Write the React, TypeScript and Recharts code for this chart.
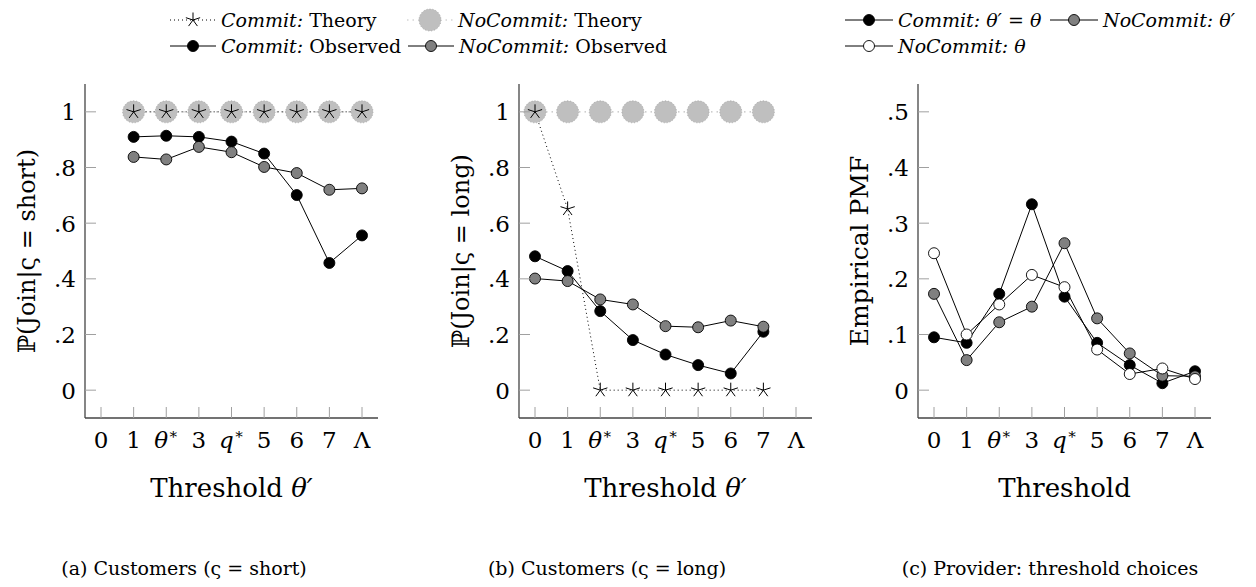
import React from "react";
import { LineChart, Line, XAxis, YAxis } from "recharts";

// categories shared by all three panels
const CATS = ["0", "1", "θ*", "3", "q*", "5", "6", "7", "Λ"];

// (a) customers, short
const aCommitTheory = [null, 1, 1, 1, 1, 1, 1, 1, 1];
const aNoCommitTheory = [null, 1, 1, 1, 1, 1, 1, 1, 1];
const aCommitObs = [null, 0.91, 0.914, 0.91, 0.893, 0.85, 0.701, 0.457, 0.556];
const aNoCommitObs = [null, 0.838, 0.829, 0.874, 0.855, 0.802, 0.78, 0.72, 0.725];

// (b) customers, long
const bCommitTheory = [1, 0.651, 0, 0, 0, 0, 0, 0, null];
const bNoCommitTheory = [1, 1, 1, 1, 1, 1, 1, 1, null];
const bCommitObs = [0.481, 0.428, 0.284, 0.18, 0.128, 0.09, 0.06, 0.21, null];
const bNoCommitObs = [0.401, 0.392, 0.326, 0.308, 0.23, 0.226, 0.25, 0.228, null];

// (c) provider threshold choices
const cCommit = [0.095, 0.085, 0.173, 0.334, 0.168, 0.085, 0.045, 0.0125, 0.034];
const cNoCommitPrime = [0.173, 0.054, 0.122, 0.15, 0.264, 0.129, 0.066, 0.026, 0.025];
const cNoCommitTheta = [0.246, 0.1, 0.154, 0.207, 0.185, 0.073, 0.029, 0.039, 0.02];

const PROB_TICKS = [0, 0.2, 0.4, 0.6, 0.8, 1];
const PMF_TICKS = [0, 0.1, 0.2, 0.3, 0.4, 0.5];

const dataA = CATS.map((c, i) => ({ cat: c, ct: aCommitTheory[i], nt: aNoCommitTheory[i], co: aCommitObs[i], no: aNoCommitObs[i] }));
const dataB = CATS.map((c, i) => ({ cat: c, ct: bCommitTheory[i], nt: bNoCommitTheory[i], co: bCommitObs[i], no: bNoCommitObs[i] }));
const dataC = CATS.map((c, i) => ({ cat: c, cm: cCommit[i], np: cNoCommitPrime[i], nth: cNoCommitTheta[i] }));

const FONT = "'DejaVu Serif', 'Liberation Serif', 'Times New Roman', serif";
const BOX = "#444";
const TICK = "#a0a0a0";

const catLabel = (v: string) => {
  if (v === "θ*" || v === "q*") {
    return (
      <>
        <tspan fontStyle="italic">{v[0]}</tspan>
        <tspan fontSize={15} dy={-9}>∗</tspan>
      </>
    );
  }
  return v;
};

const XTick = (props: any) => {
  const { x, y, payload } = props;
  return (
    <g>
      <line x1={x} x2={x} y1={y} y2={y - 11} stroke={TICK} strokeWidth={1} />
      <text x={x} y={y + 30} textAnchor="middle" fontSize={23} fontFamily={FONT} fill="#000">
        {catLabel(payload.value)}
      </text>
    </g>
  );
};

const fmt = (v: number) => (v === 0 ? "0" : v === 1 ? "1" : String(v).replace(/^0/, ""));

const YTick = (props: any) => {
  const { x, y, payload } = props;
  return (
    <g>
      <line x1={x} x2={x + 11} y1={y} y2={y} stroke={TICK} strokeWidth={1} />
      <text x={x - 9} y={y + 8.5} textAnchor="end" fontSize={23} fontFamily={FONT} fill="#000">
        {fmt(payload.value)}
      </text>
    </g>
  );
};

const yTitle = (text: React.ReactNode, dx: number, size = 24) => (props: any) => {
  const vb = props.viewBox || { x: 0, y: 84, width: 0, height: 334 };
  const cx = vb.x + dx;
  const cy = vb.y + vb.height / 2;
  return (
    <text transform={`translate(${cx},${cy}) rotate(-90)`} textAnchor="middle" dominantBaseline="central" fontSize={size} fontFamily={FONT} fill="#000">
      {text}
    </text>
  );
};

const xTitle = (text: React.ReactNode) => (props: any) => {
  const vb = props.viewBox || { x: 0, y: 418, width: 0, height: 0 };
  return (
    <text x={vb.x + vb.width / 2} y={vb.y + 79} textAnchor="middle" fontSize={26} fontFamily={FONT} fill="#000">
      {text}
    </text>
  );
};

const circleDot = (fill: string, r = 5.5, stroke = "#000", dash?: string) => (p: any) => {
  if (p.cx == null || p.cy == null || p.value == null) return <g key={p.index} />;
  return <circle key={p.index} cx={p.cx} cy={p.cy} r={r} fill={fill} stroke={stroke} strokeWidth={0.9} strokeDasharray={dash} />;
};

const starPath = (cx: number, cy: number, r: number) => {
  let d = "";
  for (let k = 0; k < 5; k++) {
    const a = ((-90 + k * 72) * Math.PI) / 180;
    d += `M${cx},${cy}L${cx + r * Math.cos(a)},${cy + r * Math.sin(a)}`;
  }
  return d;
};

const starDot = (p: any) => {
  if (p.cx == null || p.cy == null || p.value == null) return <g key={p.index} />;
  return <path key={p.index} d={starPath(p.cx, p.cy, 7.5)} stroke="#000" strokeWidth={1} fill="none" />;
};

const frameAxes = (domain: number[]) => [
  <XAxis key="top" xAxisId="top" orientation="top" height={0} tick={false} tickLine={false} axisLine={{ stroke: BOX, strokeWidth: 1.3 }} />,
  <YAxis key="r" yAxisId="r" orientation="right" width={0} tick={false} tickLine={false} domain={domain} axisLine={{ stroke: BOX, strokeWidth: 1.3 }} />,
];

function JoinPanel({ data, left, yWidth, right, ylabel, labelDx }: any) {
  return (
    <div style={{ position: "absolute", left, top: 0 }}>
      <LineChart width={yWidth + 293 + right} height={510} data={data} margin={{ top: 84, right, left: 0, bottom: 0 }}>
        <XAxis dataKey="cat" height={92} padding={{ left: 16, right: 16 }} tick={<XTick />} tickSize={0} tickMargin={0} tickLine={false} interval={0} axisLine={{ stroke: BOX, strokeWidth: 1.3 }} label={xTitle(<>Threshold <tspan fontStyle="italic">θ′</tspan></>)} />
        <YAxis type="number" domain={[-0.1, 1.1]} ticks={PROB_TICKS} width={yWidth} tick={<YTick />} tickSize={0} tickMargin={0} tickLine={false} interval={0} allowDataOverflow axisLine={{ stroke: BOX, strokeWidth: 1.3 }} label={yTitle(ylabel, labelDx)} />
        {frameAxes([-0.1, 1.1])}
        <Line dataKey="nt" stroke="#bfbfbf" strokeWidth={1.2} strokeDasharray="1.5 4" dot={circleDot("#bfbfbf", 11, "#a5a5a5", "1 2")} activeDot={false} isAnimationActive={false} />
        <Line dataKey="ct" stroke="#000" strokeWidth={1} strokeDasharray="1 3" dot={starDot} activeDot={false} isAnimationActive={false} />
        <Line dataKey="co" stroke="#000" strokeWidth={1} dot={circleDot("#000")} activeDot={false} isAnimationActive={false} />
        <Line dataKey="no" stroke="#000" strokeWidth={1} dot={circleDot("#808080")} activeDot={false} isAnimationActive={false} />
      </LineChart>
    </div>
  );
}

function PmfPanel() {
  return (
    <div style={{ position: "absolute", left: 840, top: 0 }}>
      <LineChart width={416} height={510} data={dataC} margin={{ top: 84, right: 45, left: 0, bottom: 0 }}>
        <XAxis dataKey="cat" height={92} padding={{ left: 16, right: 16 }} tick={<XTick />} tickSize={0} tickMargin={0} tickLine={false} interval={0} axisLine={{ stroke: BOX, strokeWidth: 1.3 }} label={xTitle("Threshold")} />
        <YAxis type="number" domain={[-0.05, 0.55]} ticks={PMF_TICKS} width={78} tick={<YTick />} tickSize={0} tickMargin={0} tickLine={false} interval={0} allowDataOverflow axisLine={{ stroke: BOX, strokeWidth: 1.3 }} label={yTitle("Empirical PMF", 19, 25)} />
        {frameAxes([-0.05, 0.55])}
        <Line dataKey="cm" stroke="#000" strokeWidth={1} dot={circleDot("#000")} activeDot={false} isAnimationActive={false} />
        <Line dataKey="np" stroke="#000" strokeWidth={1} dot={circleDot("#808080")} activeDot={false} isAnimationActive={false} />
        <Line dataKey="nth" stroke="#000" strokeWidth={1} dot={circleDot("#fff")} activeDot={false} isAnimationActive={false} />
      </LineChart>
    </div>
  );
}

function Marker({ kind, w = 46 }: { kind: string; w?: number }) {
  const c = w / 2;
  return (
    <svg width={w} height={26} style={{ display: "block" }}>
      {kind === "star" && (
        <>
          <line x1={0} x2={w} y1={13} y2={13} stroke="#000" strokeDasharray="1 3" />
          <path d={starPath(c, 13, 7.5)} stroke="#000" fill="none" />
        </>
      )}
      {kind === "theory" && (
        <>
          <line x1={0} x2={w} y1={13} y2={13} stroke="#bfbfbf" strokeWidth={1.2} strokeDasharray="1.5 4" />
          <circle cx={c} cy={13} r={11} fill="#bfbfbf" stroke="#a5a5a5" strokeWidth={0.9} strokeDasharray="1 2" />
        </>
      )}
      {kind !== "star" && kind !== "theory" && (
        <>
          <line x1={0} x2={w} y1={13} y2={13} stroke="#000" strokeWidth={1} />
          <circle cx={c} cy={13} r={5.5} fill={kind} stroke="#000" strokeWidth={0.9} />
        </>
      )}
    </svg>
  );
}

function Entry({ left, top, kind, w, children }: any) {
  return (
    <div style={{ position: "absolute", left, top: top - 13, height: 26, display: "flex", alignItems: "center", whiteSpace: "nowrap", fontFamily: FONT, fontSize: 19 }}>
      <Marker kind={kind} w={w} />
      <span style={{ marginLeft: 5 }}>{children}</span>
    </div>
  );
}

const caption: React.CSSProperties = { position: "absolute", top: 553, height: 30, lineHeight: "30px", fontFamily: FONT, fontSize: 19, textAlign: "center", whiteSpace: "nowrap", transform: "translateX(-50%)" };

export default function App() {
  return (
    <div style={{ position: "absolute", left: 0, top: 0, width: 1256, height: 587, background: "#fff", overflow: "hidden" }}>
      <Entry left={170} top={20} kind="star"><i>Commit:</i> Theory</Entry>
      <Entry left={407} top={20} kind="theory"><i>NoCommit:</i> Theory</Entry>
      <Entry left={170} top={46} kind="#000"><i>Commit:</i> Observed</Entry>
      <Entry left={408} top={46} kind="#808080"><i>NoCommit:</i> Observed</Entry>

      <Entry left={845} top={20} kind="#000" w={48}><i>Commit: θ′</i> = <i>θ</i></Entry>
      <Entry left={1050} top={20} kind="#808080" w={48}><i>NoCommit: θ′</i></Entry>
      <Entry left={845} top={46} kind="#fff" w={48}><i>NoCommit: θ</i></Entry>

      <JoinPanel data={dataA} left={0} yWidth={85} right={22} ylabel="ℙ(Join|ς = short)" labelDx={27} />
      <JoinPanel data={dataB} left={420} yWidth={99} right={29} ylabel="ℙ(Join|ς = long)" labelDx={41} />
      <PmfPanel />

      <div style={{ ...caption, left: 184 }}>(a) Customers (ς = short)</div>
      <div style={{ ...caption, left: 607 }}>(b) Customers (ς = long)</div>
      <div style={{ ...caption, left: 1050 }}>(c) Provider: threshold choices</div>
    </div>
  );
}
